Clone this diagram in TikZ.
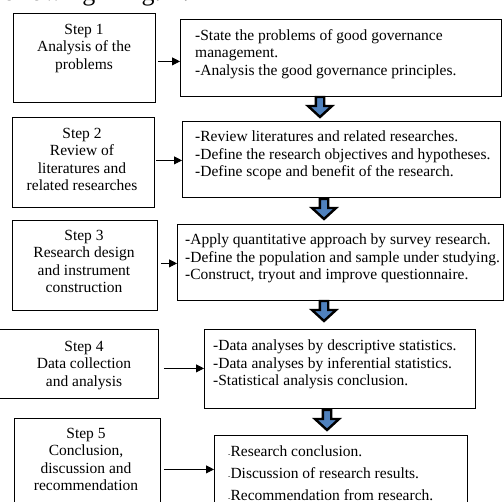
\documentclass[tikz,border=0pt]{standalone}
\usepackage{fontspec}
\setmainfont{Liberation Serif}
\usetikzlibrary{arrows.meta}
\definecolor{arrblue}{RGB}{79,129,189}
\tikzset{
  x=1pt, y=-1pt,
  box/.style={draw=black, line width=0.8pt, inner sep=0pt, anchor=north west},
  steptxt/.style={align=center, inner sep=0pt, anchor=north, font=\fontsize{15.5}{17.5}\selectfont},
  rtxt/.style={align=left, inner sep=0pt, anchor=north west, font=\fontsize{15.5}{17.5}\selectfont},
  arr/.style={line width=0.8pt, -{Triangle[length=8pt,width=8pt]}},
  blockarrow/.pic={
    \filldraw[fill=arrblue, draw=black, line width=2.4pt, line join=miter]
      (-4.2,0) -- (4.2,0) -- (4.2,9) -- (12,9) -- (0,20) -- (-12,9) -- (-4.2,9) -- cycle;
  }
}
\begin{document}
\begin{tikzpicture}
\clip (0,0) rectangle (504,502);
\useasboundingbox (0,0) rectangle (504,502);

% partial heading
\node[inner sep=0pt, anchor=base west, font=\fontsize{26}{26}\selectfont] (head) at (-6,1) {following\ \ “Fig. 1.};

% left boxes
\node[box, minimum width=142pt, minimum height=89pt] (L1) at (13,13) {};
\node[box, minimum width=142pt, minimum height=90pt] (L2) at (12,117) {};
\node[box, minimum width=145pt, minimum height=90pt] (L3) at (12,220) {};
\node[box, minimum width=163pt, minimum height=69pt] (L4) at (-5,329) {};
\node[box, minimum width=146pt, minimum height=100pt] (L5) at (14,418) {};

% right boxes
\node[box, minimum width=321pt, minimum height=77pt] (R1) at (180,19) {};
\node[box, minimum width=318pt, minimum height=76pt] (R2) at (182,121) {};
\node[box, minimum width=326pt, minimum height=76pt] (R3) at (177,224) {};
\node[box, minimum width=271pt, minimum height=79pt] (R4) at (204,329) {};
\node[box, minimum width=253pt, minimum height=90pt] (R5) at (214,435) {};

% step texts
\node[steptxt] (t1) at (84,24) {Step 1\\Analysis of the\\problems};
\node[steptxt] (t2) at (82,128) {Step 2\\Review of\\literatures and\\related researches};
\node[steptxt] (t3) at (84,230) {Step 3\\Research design\\and instrument\\construction};
\node[steptxt] (t4) at (84,341) {Step 4\\Data collection\\and analysis};
\node[steptxt] (t5) at (86,428) {Step 5\\Conclusion,\\discussion and\\recommendation};

% right texts
\node[rtxt] (r1) at (195,29) {-State the problems of good governance\\management.\\-Analysis the good governance principles.};
\node[rtxt] (r2) at (195,131) {-Review literatures and related researches.\\-Define the research objectives and hypotheses.\\-Define scope and benefit of the research.};
\node[rtxt] (r3) at (185,234) {-Apply quantitative approach by survey research.\\-Define the population and sample under studying.\\-Construct, tryout and improve questionnaire.};
\node[rtxt] (r4) at (213,340) {-Data analyses by descriptive statistics.\\-Data analyses by inferential statistics.\\-Statistical analysis conclusion.};
\node[rtxt, font=\fontsize{15.5}{22}\selectfont] (r5) at (228,446) {{\fontsize{7}{7}\selectfont-}Research conclusion.\\{\fontsize{7}{7}\selectfont-}Discussion of research results.\\{\fontsize{7}{7}\selectfont-}Recommendation from research.};

% step connectors
\draw[arr] ([xshift=2pt,yshift=-3.5pt]L1.east) -- ([yshift=-3.5pt]R1.west);
\draw[arr] ([xshift=1pt,yshift=2pt]L2.east) -- ([yshift=-1pt]R2.west);
\draw[arr] ([xshift=3pt,yshift=2pt]L3.east) -- ([yshift=-1pt]R3.west);
\draw[arr] ([xshift=5pt,yshift=-4.5pt]L4.east) -- ([yshift=0.5pt]R4.west);
\draw[arr] ([xshift=3pt,yshift=-1pt]L5.east) -- ([yshift=11pt]R5.west);

% block arrows between right boxes
\pic at (320,97) {blockarrow};
\pic at (324,199) {blockarrow};
\pic at (324,301) {blockarrow};
\pic at (327,410) {blockarrow};
\end{tikzpicture}
\end{document}
